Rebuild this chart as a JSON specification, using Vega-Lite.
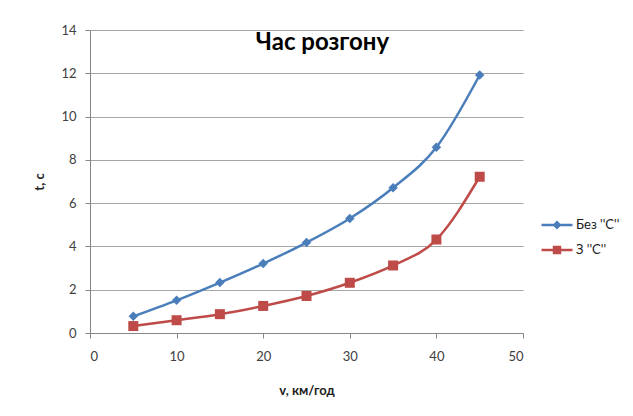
{
  "$schema": "https://vega.github.io/schema/vega-lite/v6.json",
  "autosize": {"type": "none"},
  "padding": {"left": 90, "top": 30, "right": 110, "bottom": 83},
  "width": 433,
  "height": 303,
  "background": "white",
  "title": {"text": "Час розгону", "anchor": "middle", "frame": "group", "font": "Lato", "fontSize": 24, "fontWeight": "bold", "color": "black", "baseline": "middle", "offset": -16, "dx": 16, "dy": 27},
  "config": {
    "view": {"stroke": null},
    "font": "Lato"
  },
  "data": {"values": [
    {"v": 5, "t": 0.77, "series": "Без ''C''"},
    {"v": 10, "t": 1.51, "series": "Без ''C''"},
    {"v": 15, "t": 2.33, "series": "Без ''C''"},
    {"v": 20, "t": 3.21, "series": "Без ''C''"},
    {"v": 25, "t": 4.18, "series": "Без ''C''"},
    {"v": 30, "t": 5.29, "series": "Без ''C''"},
    {"v": 35, "t": 6.71, "series": "Без ''C''"},
    {"v": 40, "t": 8.58, "series": "Без ''C''"},
    {"v": 45, "t": 11.92, "series": "Без ''C''"},
    {"v": 5, "t": 0.32, "series": "З ''C''"},
    {"v": 10, "t": 0.59, "series": "З ''C''"},
    {"v": 15, "t": 0.87, "series": "З ''C''"},
    {"v": 20, "t": 1.25, "series": "З ''C''"},
    {"v": 25, "t": 1.71, "series": "З ''C''"},
    {"v": 30, "t": 2.32, "series": "З ''C''"},
    {"v": 35, "t": 3.12, "series": "З ''C''"},
    {"v": 40, "t": 4.32, "series": "З ''C''"},
    {"v": 45, "t": 7.22, "series": "З ''C''"}
  ]},
  "encoding": {
    "x": {"field": "v", "type": "quantitative",
      "scale": {"domain": [0, 50], "nice": false},
      "axis": {"title": "v, км/год", "values": [0, 10, 20, 30, 40, 50], "grid": false,
        "domainColor": "#868686", "tickColor": "#868686", "tickSize": 5,
        "labelFont": "Lato", "labelFontSize": 13, "labelColor": "#404040", "labelPadding": 12,
        "titleFont": "Lato", "titleFontSize": 13, "titleFontWeight": "bold", "titleColor": "#202020", "titlePadding": 21}},
    "y": {"field": "t", "type": "quantitative",
      "scale": {"domain": [0, 14], "nice": false},
      "axis": {"title": "t, c", "values": [0, 2, 4, 6, 8, 10, 12, 14], "grid": true, "gridColor": "#a6a6a6", "gridWidth": 1,
        "domainColor": "#868686", "tickColor": "#868686", "tickSize": 5,
        "labelFont": "Lato", "labelFontSize": 13, "labelColor": "#404040", "labelPadding": 9,
        "titleFont": "Lato", "titleFontSize": 13, "titleFontWeight": "bold", "titleColor": "#202020", "titlePadding": 14}},
    "color": {"field": "series", "type": "nominal",
      "scale": {"domain": ["Без ''C''", "З ''C''"], "range": ["#4a7ebb", "#be4b48"]},
      "legend": {"title": null, "orient": "none", "legendX": 457, "legendY": 185, "padding": 0,
        "symbolSize": 400, "labelFont": "Lato", "labelFontSize": 13, "labelColor": "#202020", "labelOffset": 9, "rowPadding": 8, "symbolOpacity": 1,
        "encode": {"symbols": {"update": {"fill": {"scale": "color", "field": "value"}, "fillOpacity": {"value": 1}, "opacity": {"value": 1}, "strokeWidth": {"value": 0}}}}}}
  },
  "layer": [
    {"mark": {"type": "line", "interpolate": "monotone", "strokeWidth": 2.5}},
    {"transform": [{"filter": "datum.series === 'Без \\'\\'C\\'\\''"}],
     "mark": {"type": "point", "shape": "diamond", "filled": true, "opacity": 1, "size": 90}},
    {"transform": [{"filter": "datum.series === 'З \\'\\'C\\'\\''"}],
     "mark": {"type": "point", "shape": "square", "filled": true, "opacity": 1, "size": 100}},
    {"mark": {"type": "point", "filled": true, "opacity": 0},
     "encoding": {
       "shape": {"field": "series", "type": "nominal",
         "scale": {"domain": ["Без ''C''", "З ''C''"], "range": ["M-1.55,-0.125H1.55V0.125H-1.55Z M-0.45,0L0,-0.45L0.45,0L0,0.45Z", "M-1.55,-0.125H1.55V0.125H-1.55Z M-0.42,-0.42H0.42V0.42H-0.42Z"]}}
     }}
  ]
}
